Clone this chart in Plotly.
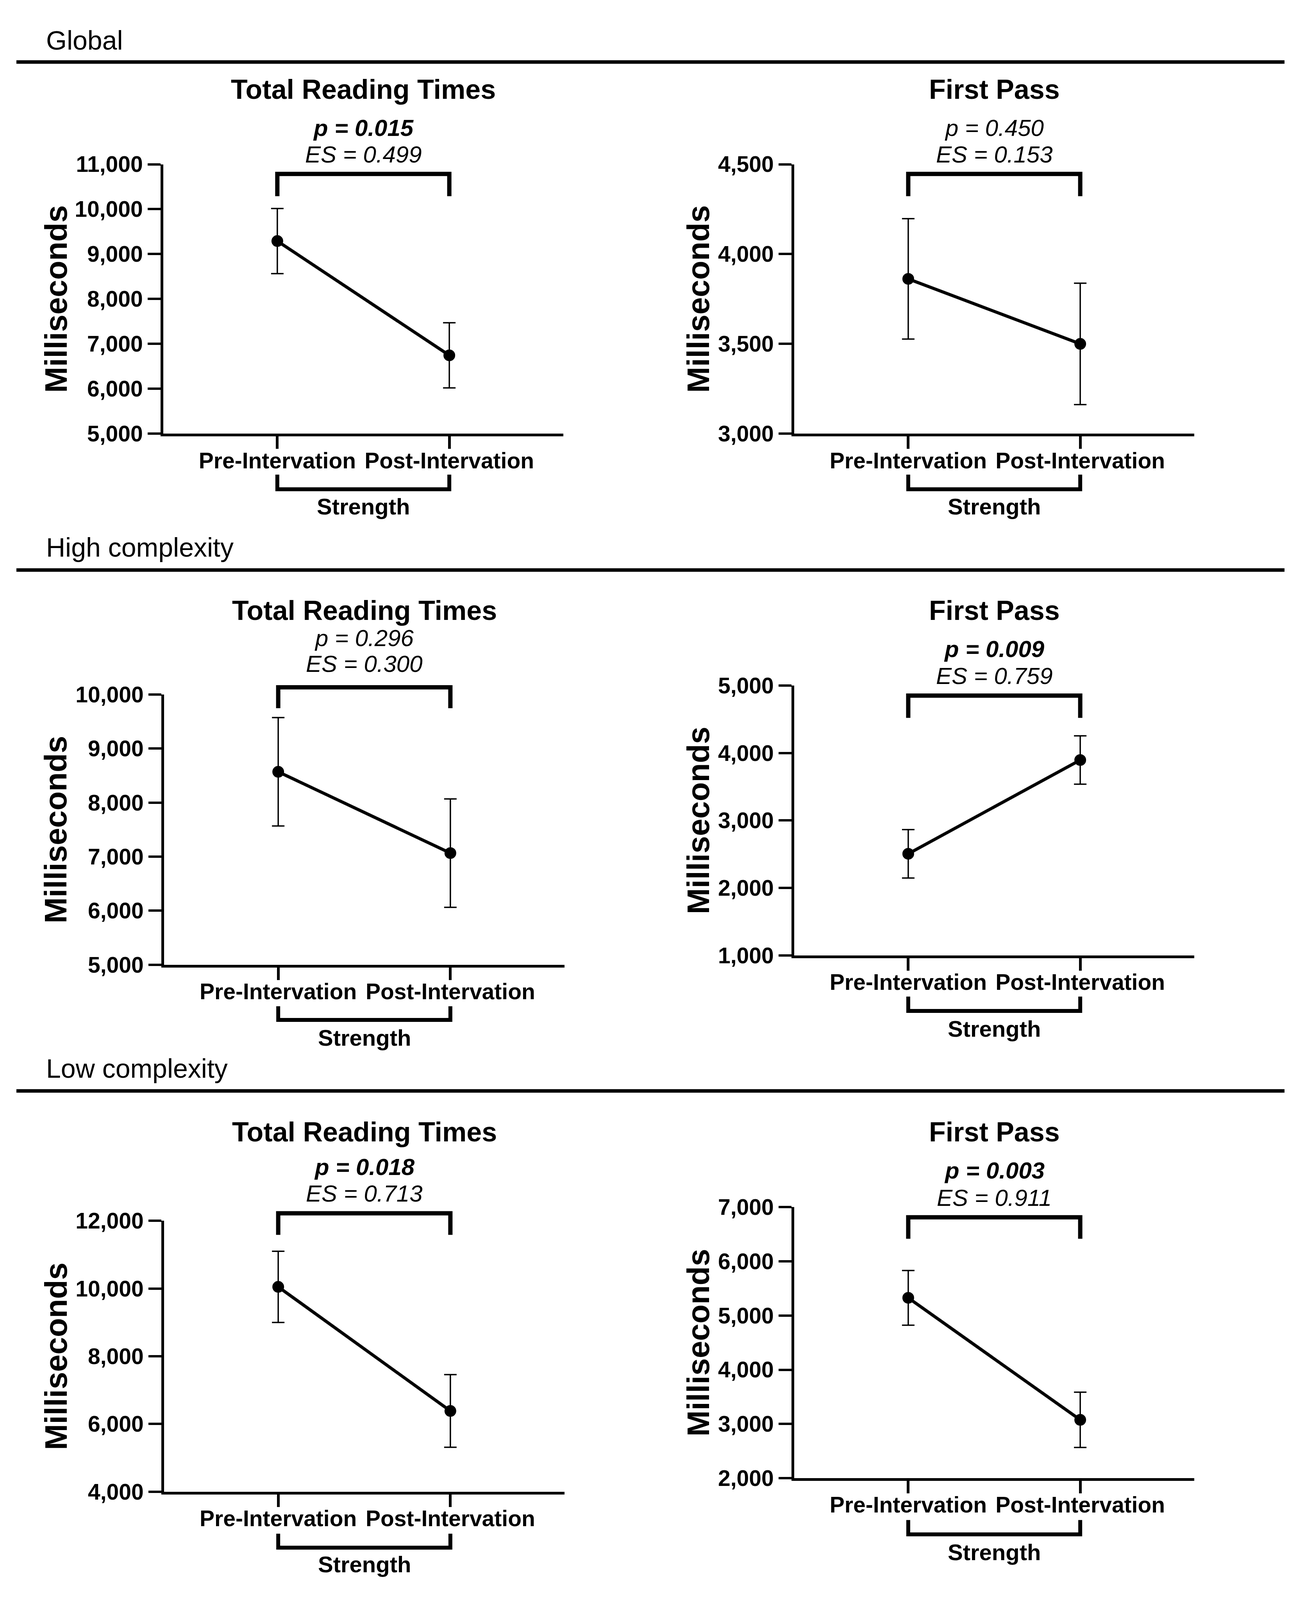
import plotly.graph_objects as go

# ---------------- data ----------------
categories = ["Pre-Intervation", "Post-Intervation"]
x_pos = [0, 1]

global_trt_mean = [9290, 6745]
global_trt_err = [725, 725]
global_fp_mean = [3862, 3500]
global_fp_err = [335, 338]
high_trt_mean = [8570, 7065]
high_trt_err = [1003, 1003]
high_fp_mean = [2506, 3896]
high_fp_err = [359, 359]
low_trt_mean = [10050, 6385]
low_trt_err = [1052, 1072]
low_fp_mean = [5327, 3075]
low_fp_err = [505, 510]

panel_titles = ["Total Reading Times", "First Pass", "Total Reading Times",
                "First Pass", "Total Reading Times", "First Pass"]
p_values = ["0.015", "0.450", "0.296", "0.009", "0.018", "0.003"]
p_significant = [True, False, False, True, True, True]
es_values = ["0.499", "0.153", "0.300", "0.759", "0.713", "0.911"]
section_labels = ["Global", "High complexity", "Low complexity"]
y_ranges = [[5000, 11000], [3000, 4500], [5000, 10000], [1000, 5000], [4000, 12000], [2000, 7000]]
y_dticks = [1000, 500, 1000, 1000, 2000, 1000]
y_title = "Milliseconds"
group_label = "Strength"

means = [global_trt_mean, global_fp_mean, high_trt_mean, high_fp_mean, low_trt_mean, low_fp_mean]
errs = [global_trt_err, global_fp_err, high_trt_err, high_fp_err, low_trt_err, low_fp_err]

# ---------------- layout geometry (pixels) ----------------
W, H = 3320, 4390
FONT = "Liberation Sans, Arial, Helvetica, sans-serif"


def fx(px):
    return px / W


def fy(py):
    return 1 - py / H


# x0, x1, ytop, ybot, title_y, p_y, es_y, top bracket (h, leg end), bottom bracket (leg top, h), strength_y, ytitle_x
geom = [
    (418, 1442, 423, 1174, 215, 322, 396, 450, 512, 1288, 1329, 1377, 143),
    (2033, 3057, 423, 1174, 215, 322, 396, 450, 512, 1288, 1329, 1377, 1787),
    (420, 1445, 1901, 2654, 1667, 1744, 1816, 1881, 1939, 2770, 2808, 2857, 143),
    (2033, 3057, 1876, 2628, 1667, 1774, 1849, 1904, 1966, 2743, 2783, 2833, 1787),
    (420, 1445, 3368, 4123, 3120, 3218, 3292, 3347, 3407, 4240, 4279, 4325, 143),
    (2033, 3057, 3330, 4085, 3120, 3228, 3304, 3358, 3418, 4202, 4242, 4292, 1787),
]
sections = [(77, 138), (1491, 1554), (2943, 3006)]
XR = [-0.663, 1.663]

fig = go.Figure()
layout = dict(
    width=W, height=H,
    margin=dict(l=0, r=0, t=0, b=0),
    paper_bgcolor="white", plot_bgcolor="white",
    showlegend=False,
    font=dict(family=FONT, color="black"),
)
annotations = []
shapes = []

for i in range(6):
    n = i + 1
    (x0, x1, yt, yb, title_y, p_y, es_y, tb_h, tb_leg, bb_leg, bb_h, st_y, yt_x) = geom[i]
    xa = "x" if n == 1 else f"x{n}"
    ya = "y" if n == 1 else f"y{n}"
    fig.add_trace(go.Scatter(
        x=x_pos, y=means[i], xaxis=xa, yaxis=ya,
        mode="lines+markers",
        line=dict(color="black", width=8),
        marker=dict(color="black", size=30),
        error_y=dict(type="data", array=errs[i], color="black", thickness=3.5, width=16),
        hoverinfo="skip",
    ))
    layout[f"xaxis{'' if n == 1 else n}"] = dict(
        domain=[fx(x0), fx(x1)], anchor=ya, range=XR,
        tickmode="array", tickvals=x_pos, ticktext=categories,
        showline=True, linewidth=7, linecolor="black",
        ticks="outside", ticklen=32, tickwidth=7, tickcolor="black",
        showgrid=False, zeroline=False, ticklabelstandoff=-19,
        tickfont=dict(family=FONT, size=57, color="black", weight="bold"),
    )
    layout[f"yaxis{'' if n == 1 else n}"] = dict(
        domain=[fy(yb), fy(yt)], anchor=xa, range=y_ranges[i],
        tick0=y_ranges[i][0], dtick=y_dticks[i], tickformat=",d",
        showline=True, linewidth=7, linecolor="black",
        ticks="outside", ticklen=33, tickwidth=6, tickcolor="black",
        showgrid=False, zeroline=False, ticklabelstandoff=1,
        tickfont=dict(family=FONT, size=57, color="black", weight="bold"),
    )
    # panel title
    annotations.append(dict(
        text=f"<b>{panel_titles[i]}</b>", xref=f"{xa} domain", yref="paper",
        x=0.5, y=fy(title_y), xanchor="center", yanchor="middle",
        showarrow=False, font=dict(family=FONT, size=70, color="black")))
    ptxt = f"<i>p = {p_values[i]}</i>"
    if p_significant[i]:
        ptxt = f"<b>{ptxt}</b>"
    annotations.append(dict(
        text=ptxt, xref=xa, yref="paper", x=0.5, y=fy(p_y),
        xanchor="center", yanchor="middle", showarrow=False,
        font=dict(family=FONT, size=60, color="black")))
    annotations.append(dict(
        text=f"<i>ES = {es_values[i]}</i>", xref=xa, yref="paper", x=0.5, y=fy(es_y),
        xanchor="center", yanchor="middle", showarrow=False,
        font=dict(family=FONT, size=60, color="black")))
    # y title
    annotations.append(dict(
        text=f"<b>{y_title}</b>", xref="paper", yref="paper",
        x=fx(yt_x), y=fy((yt + yb) / 2), xanchor="center", yanchor="middle",
        textangle=-90, showarrow=False, font=dict(family=FONT, size=80, color="black")))
    # group label
    annotations.append(dict(
        text=f"<b>{group_label}</b>", xref=xa, yref="paper", x=0.5, y=fy(st_y),
        xanchor="center", yanchor="middle", showarrow=False,
        font=dict(family=FONT, size=58, color="black")))
    # comparison bracket (top)
    shapes.append(dict(
        type="path", xref=xa, yref="paper",
        path=f"M {x_pos[0]},{fy(tb_leg)} L {x_pos[0]},{fy(tb_h)} L {x_pos[1]},{fy(tb_h)} L {x_pos[1]},{fy(tb_leg)}",
        line=dict(color="black", width=11)))
    # grouping bracket (bottom)
    shapes.append(dict(
        type="path", xref=xa, yref="paper",
        path=f"M {x_pos[0]},{fy(bb_leg)} L {x_pos[0]},{fy(bb_h)} L {x_pos[1]},{fy(bb_h)} L {x_pos[1]},{fy(bb_leg)}",
        line=dict(color="black", width=10)))

for label, (ly, ry) in zip(section_labels, sections):
    annotations.append(dict(
        text=label, xref="paper", yref="paper", x=fx(116), y=fy(ly),
        xanchor="left", yanchor="middle", showarrow=False,
        font=dict(family=FONT, size=68, color="black")))
    shapes.append(dict(
        type="line", xref="paper", yref="paper", x0=fx(42), x1=fx(3288),
        y0=fy(ry), y1=fy(ry), line=dict(color="black", width=9)))

layout["annotations"] = annotations
layout["shapes"] = shapes
fig.update_layout(**layout)

# make the page margin-free and fit the figure to the visible viewport
post_js = """
document.body.style.margin = '0';
document.body.style.padding = '0';
document.documentElement.style.overflow = 'hidden';
document.body.style.overflow = 'hidden';
var gd = document.getElementById('{plot_id}');
var w = window.innerWidth, h = window.innerHeight;
if (w > 500 && h > 500) {
  gd.style.width = w + 'px';
  gd.style.height = h + 'px';
  Plotly.relayout(gd, {width: w, height: h});
}
"""
fig.write_html("out.html", post_script=post_js, config={"displayModeBar": False})
